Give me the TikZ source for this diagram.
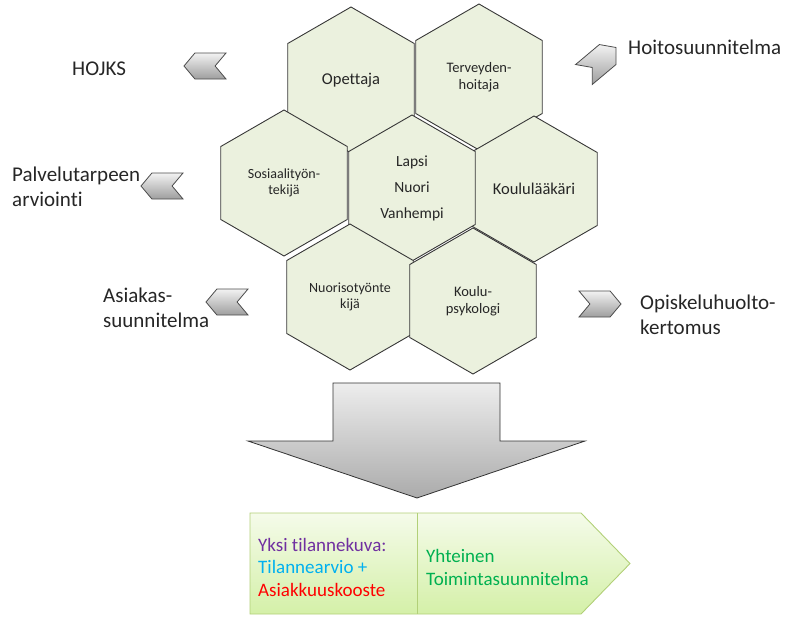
\documentclass[tikz,border=0pt]{standalone}
\usepackage{fontspec}
\setmainfont{Carlito}[Ligatures=NoCommon]
\usetikzlibrary{shapes.geometric,shapes.symbols}
\definecolor{hexfill}{RGB}{235,241,222}
\definecolor{hexline}{RGB}{55,55,55}
\definecolor{boxline}{RGB}{178,208,120}
\definecolor{boxtop}{RGB}{245,251,234}
\definecolor{boxbottom}{RGB}{212,240,168}
\definecolor{violetti}{RGB}{112,48,160}
\definecolor{syaani}{RGB}{0,176,240}
\definecolor{punainen}{RGB}{255,0,0}
\definecolor{vihrea}{RGB}{0,176,80}
\begin{document}
\begin{tikzpicture}[x=1pt,y=-1pt,
    hexa/.style={regular polygon, regular polygon sides=6, shape border rotate=30,
      minimum size=146pt, inner sep=0pt, draw=hexline, line width=0.9pt,
      fill=hexfill, align=center, text=black!85},
    chevron/.style={signal, signal pointer angle=100, minimum width=42pt,
      minimum height=26pt, inner sep=0pt, draw=black!70, line width=0.8pt,
      top color=black!5, bottom color=black!38},
    sivuteksti/.style={inner sep=0pt, anchor=west, align=left,
      font=\fontsize{21}{24.5}\selectfont, text=black!85}]
                    \useasboundingbox (0,0) rectangle (788,621);

                    % Hexagon Opettaja
                    \node [hexa, font=\fontsize{16.5}{20}\selectfont] (opettaja) at (351,80) {Opettaja};%

                    % Hexagon Terveydenhoitaja
                    \node [hexa, font=\fontsize{14.5}{17}\selectfont] (terveys) at (479,77) {Terveyden-\\hoitaja};%

                    % Hexagon Sosiaalityontekija
                    \node [hexa, font=\fontsize{14}{15.5}\selectfont] (sosiaali) at (284,183) {Sosiaalityön-\\tekijä};%

                    % Hexagon Koululaakari
                    \node [hexa, font=\fontsize{16.5}{20}\selectfont] (laakari) at (534,189) {Koululääkäri};%

                    % Hexagon Lapsi Nuori Vanhempi
                    \node [hexa, font=\fontsize{15.5}{26}\selectfont] (lapsi) at (412,188) {Lapsi\\Nuori\\Vanhempi};%

                    % Hexagon Nuorisotyontekija
                    \node [hexa, font=\fontsize{14}{16}\selectfont] (nuoriso) at (350,297) {Nuorisotyönte\\kijä};%

                    % Hexagon Koulupsykologi
                    \node [hexa, font=\fontsize{14.5}{16.5}\selectfont] (psykologi) at (473,301) {Koulu-\\psykologi};%

                    % Chevrons on the left
                    \node [chevron, signal to=west, signal from=east] (nuolihojks) at (205,66) {};%
                    \node [chevron, signal to=west, signal from=east] (nuolipalvelu) at (162,186) {};%
                    \node [chevron, signal to=west, signal from=east] (nuoliasiakas) at (227,302) {};%

                    % Chevrons on the right
                    \node [chevron, signal to=east, signal from=west, rotate=40] (nuolihoito) at (600,61) {};%
                    \node [chevron, signal to=east, signal from=west] (nuoliopiskelu) at (600,304) {};%

                    % Marking texts on the left
                    \node [sivuteksti] (hojks) at (72,69) {HOJKS};%
                    \node [sivuteksti] (palvelu) at (12,187) {Palvelutarpeen\\arviointi};%
                    \node [sivuteksti] (asiakas) at (103,308) {Asiakas-\\suunnitelma};%

                    % Marking texts on the right
                    \node [sivuteksti] (hoito) at (628,47) {Hoitosuunnitelma};%
                    \node [sivuteksti] (opiskelu) at (640,315) {Opiskeluhuolto-\\kertomus};%

                    % Drawing big arrow down
                    \draw [line width=0.8pt, draw=black!80, top color=black!7, bottom color=black!33]
                      (333,383) -- (500,383) -- (500,441) -- (585,441) -- (417,498)
                      -- (248,441) -- (333,441) -- cycle;%

                    % Drawing result box
                    \draw [line width=0.9pt, draw=boxline, top color=boxtop, bottom color=boxbottom]
                      (250,513) -- (581,513) -- (630,563.5) -- (581,614) -- (250,614) -- cycle;%
                    \draw [line width=0.9pt, draw=boxline] (417,513) -- (417,614);%

                    % Marking texts in result box
                    \node [inner sep=0pt, anchor=west, align=left, font=\fontsize{19}{22.5}\selectfont] (tilanne) at (258,567)
                      {\textcolor{violetti}{Yksi tilannekuva:}\\\textcolor{syaani}{Tilannearvio +}\\\textcolor{punainen}{Asiakkuuskooste}};%
                    \node [inner sep=0pt, anchor=west, align=left, font=\fontsize{19}{23}\selectfont, text=vihrea] (yhteinen) at (426,567)
                      {Yhteinen\\Toimintasuunnitelma};%
\end{tikzpicture}
\end{document}
